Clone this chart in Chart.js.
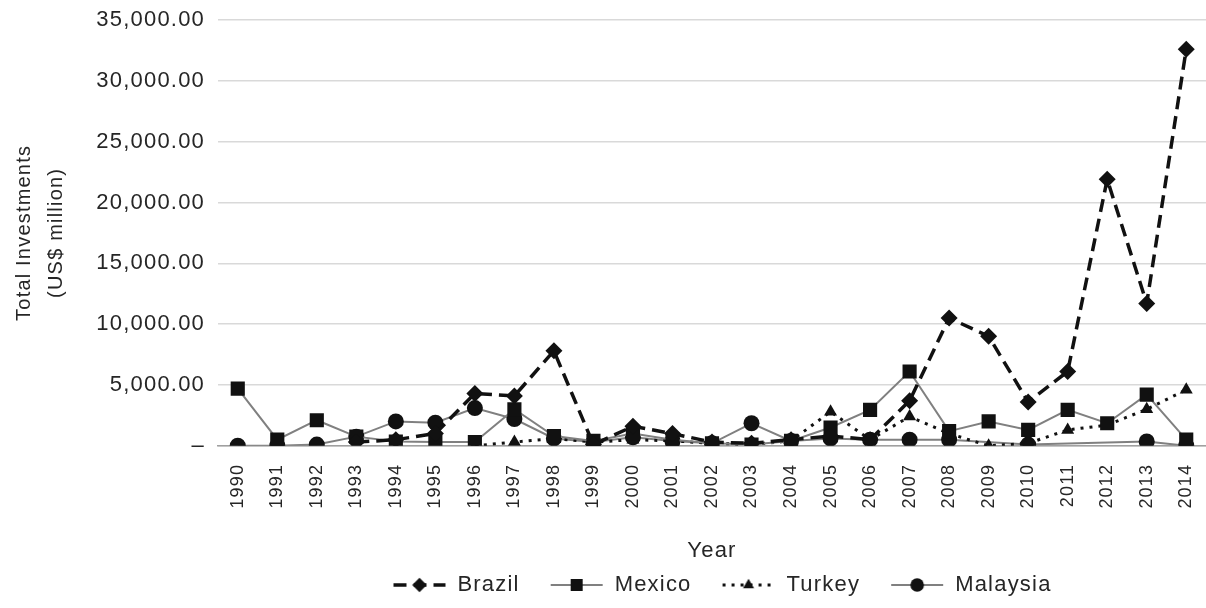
<!DOCTYPE html>
<html>
<head>
<meta charset="utf-8">
<script src="https://cdn.jsdelivr.net/npm/chart.js@4.4.1/dist/chart.umd.min.js"></script>
<style>
  html, body { margin: 0; padding: 0; background: #fff; }
</style>
</head>
<body>
<canvas id="chart" width="1206" height="608"></canvas>
<script>
const years = ['1990', '1991', '1992', '1993', '1994', '1995', '1996', '1997', '1998', '1999',
    '2000', '2001', '2002', '2003', '2004', '2005', '2006', '2007', '2008', '2009',
    '2010', '2011', '2012', '2013', '2014'];

// US$ million
const brazil = [null, null, null, 300, 500, 1000, 4300, 4100, 7800, 100,
    1600, 1000, 300, 200, 500, 800, 500, 3700, 10500, 9000,
    3600, 6100, 21900, 11700, 32600];
const mexico = [4700, 500, 2100, 750, 350, 300, 300, 3000, 800, 400,
    1000, 500, 200, 100, 400, 1500, 2950, 6100, 1200, 2000,
    1300, 2950, 1850, 4200, 500];
const turkey = [null, null, null, null, null, null, 0, 300, 600, 300,
    500, 400, 200, 100, 400, 2800, 500, 2400, 1000, 0,
    200, 1300, 1700, 3000, 4600];
const malaysia = [0, 0, 100, 750, 2000, 1900, 3100, 2200, 600, 300,
    700, 400, 200, 1850, 400, 600, 500, 500, 500, null,
    100, null, null, 350, 0];

const yTicks = [0, 5000, 10000, 15000, 20000, 25000, 30000, 35000];

const textColor = '#262626';
Chart.defaults.font.family = '"Liberation Sans", Arial, Helvetica, sans-serif';
Chart.defaults.color = textColor;

function makeDataset(label, values, lineColor, width, dash, style, radius) {
    return {
        label: label,
        data: values,
        borderColor: lineColor,
        borderWidth: width,
        borderDash: dash,
        pointStyle: style,
        pointRadius: radius,
        pointBackgroundColor: '#111',
        pointBorderWidth: 0,
        tension: 0,
        spanGaps: true,
        fill: false,
    };
}

// little picture of line + marker for the legend
function legendSample(ds) {
    const c = document.createElement('canvas');
    c.width = 74;
    c.height = 20;
    const g = c.getContext('2d');
    g.strokeStyle = ds.borderColor;
    g.lineWidth = ds.borderWidth;
    g.setLineDash(ds.borderDash);
    g.beginPath();
    g.moveTo(21, 10);
    g.lineTo(73, 10);
    g.stroke();
    g.setLineDash([]);
    g.fillStyle = '#111';
    Chart.helpers.drawPoint(g, {pointStyle: ds.pointStyle, radius: ds.pointRadius * 0.85, borderWidth: 0}, 47, 10);
    return c;
}

const textSpacing = {
    id: 'textSpacing',
    beforeLayout(chart) { chart.ctx.letterSpacing = '1.2px'; },
    beforeDraw(chart) { chart.ctx.letterSpacing = '1.2px'; },
};

const datasets = [
    makeDataset('Brazil', brazil, '#111', 3.5, [13, 7], 'rectRot', 8.5),
    makeDataset('Mexico', mexico, '#808080', 2, [], 'rect', 10),
    makeDataset('Turkey', turkey, '#111', 3, [3, 6], 'triangle', 7.5),
    makeDataset('Malaysia', malaysia, '#808080', 2, [], 'circle', 8),
];

new Chart(document.getElementById('chart'), {
    type: 'line',
    data: { labels: years, datasets: datasets },
    plugins: [textSpacing],
    options: {
        responsive: false,
        animation: false,
        layout: { autoPadding: false, padding: { left: 8, right: 0, top: 20, bottom: 2 } },
        plugins: {
            tooltip: { enabled: false },
            legend: {
                position: 'bottom',
                fullSize: false,
                labels: {
                    usePointStyle: true,
                    pointStyleWidth: 74,
                    padding: 10,
                    color: textColor,
                    font: { size: 22 },
                    generateLabels(chart) {
                        return chart.data.datasets.map((ds, i) => ({
                            text: ds.label,
                            pointStyle: legendSample(ds),
                            datasetIndex: i,
                            fontColor: textColor,
                            lineWidth: 0,
                        }));
                    },
                },
            },
        },
        scales: {
            x: {
                offset: true,
                afterFit(scale) {
                    scale.paddingLeft = 0;
                    scale.paddingRight = 0;
                },
                grid: { display: false },
                border: { display: true, color: '#a0a0a0', width: 1.5 },
                ticks: {
                    minRotation: 90,
                    maxRotation: 90,
                    autoSkip: false,
                    padding: 10,
                    color: textColor,
                    font: { size: 18 },
                },
                title: {
                    display: true,
                    text: 'Year',
                    color: textColor,
                    font: { size: 22 },
                    padding: { top: 19, bottom: 0 },
                },
            },
            y: {
                min: 0,
                max: 35000,
                afterFit(scale) {
                    scale.width = 210;
                    scale.paddingTop = 0;
                },
                afterBuildTicks(scale) { scale.ticks = yTicks.map(v => ({ value: v })); },
                grid: { color: '#d9d9d9', lineWidth: 1.5, drawTicks: false },
                border: { display: false },
                ticks: {
                    padding: 13,
                    color: textColor,
                    font: { size: 22 },
                    callback(v) {
                        if (v === 0) return '\u2013';
                        return v.toLocaleString('en-US', { minimumFractionDigits: 2, maximumFractionDigits: 2 });
                    },
                },
                title: {
                    display: true,
                    text: ['Total Investments', '(US$ million)'],
                    color: textColor,
                    font: { size: 20, lineHeight: 1.6 },
                    padding: { top: 0, bottom: 0 },
                },
            },
        },
    },
});
</script>
</body>
</html>
